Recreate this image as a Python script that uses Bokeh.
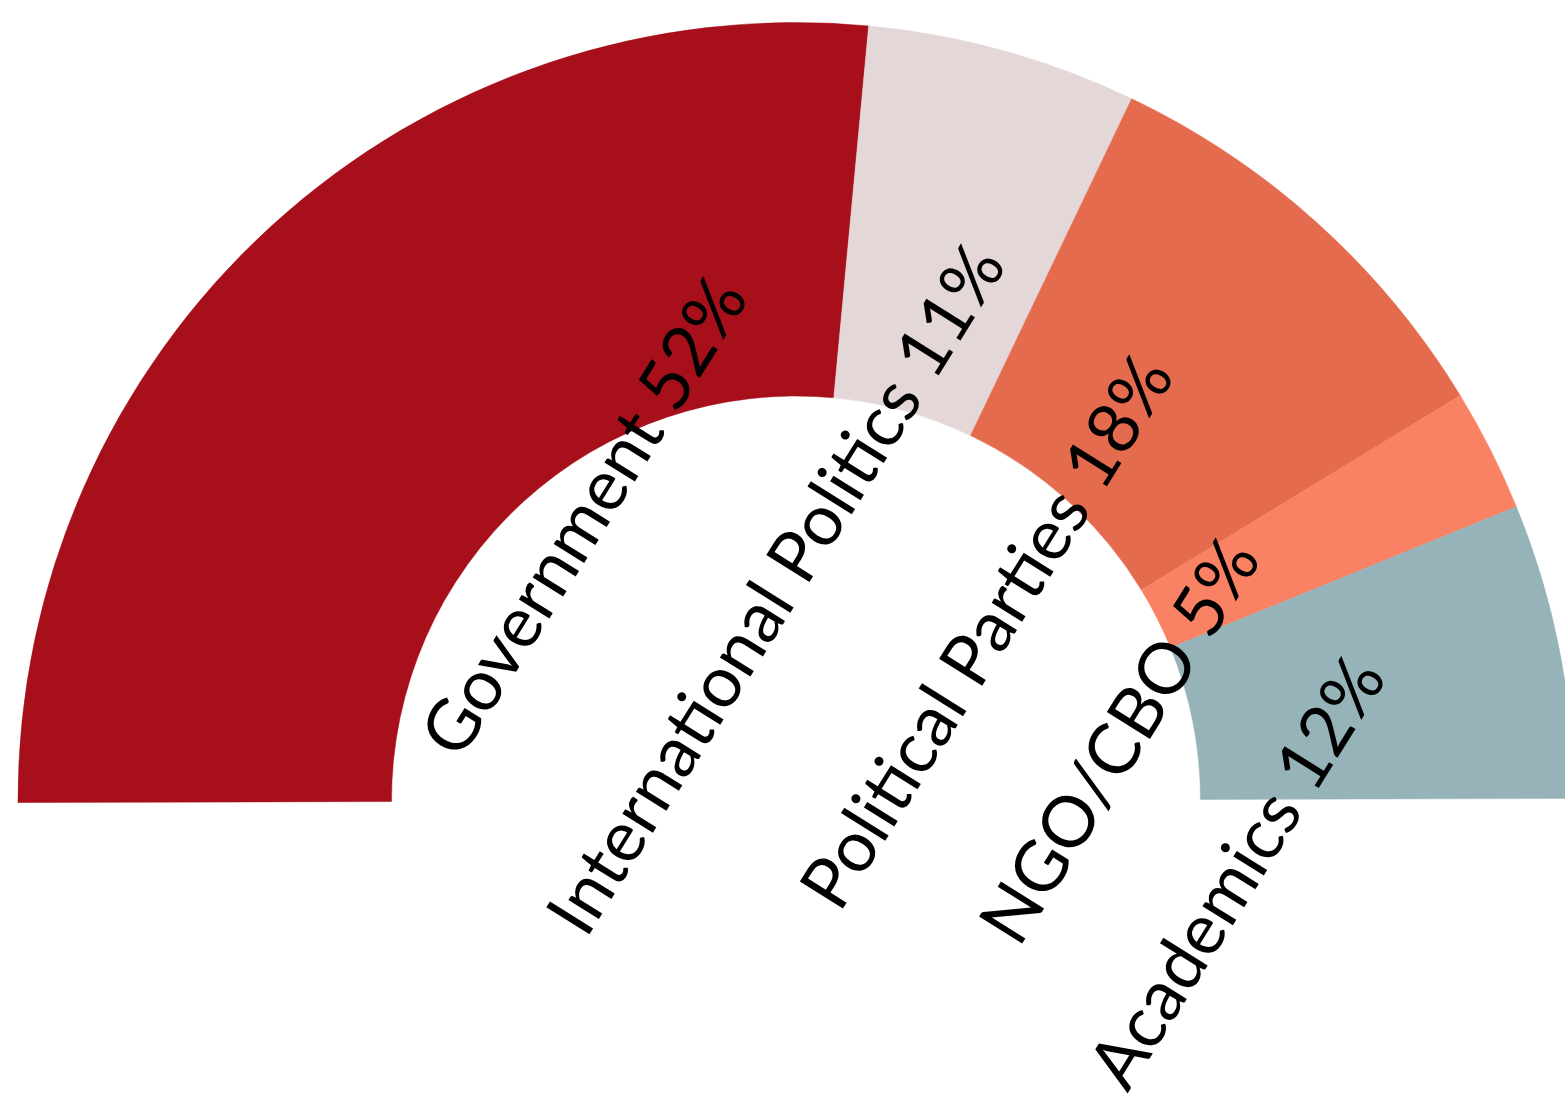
import math
from bokeh.plotting import figure
from bokeh.models import Range1d, ColumnDataSource
from bokeh.core.properties import value
from bokeh.embed import file_html
from bokeh.resources import INLINE

# ---- data ----
categories = ["Government", "International Politics", "Political Parties", "NGO/CBO", "Academics"]
percents = [52, 11, 18, 5, 12]
colors = ["#A70F1A", "#E4D7D8", "#E56B4F", "#FA8264", "#95B3B8"]

# ---- layout ----
W, H = 1565, 1098
CX_PX, CY_PX = 795.5, 800.0          # centre of the half ring on the page
R_IN, R_OUT = 404.5, 778.0
TILT = math.radians(0.15)
LABEL_ANGLE = math.radians(58)
# label centre placement, polar (radius, angle shift from slice middle in degrees)
label_r = [357, 214, 254, 327, 444]
label_shift = [-5.5, 21.5, -5.8, -16.0, -20.3]

total = sum(percents)
cum = [0]
for v in percents:
    cum.append(cum[-1] + v)
starts, ends, lx, ly, texts = [], [], [], [], []
for i, v in enumerate(percents):
    a0 = math.pi * (1 - cum[i + 1] / total) + TILT
    a1 = math.pi * (1 - cum[i] / total) + TILT
    starts.append(a0)
    ends.append(a1)
    mid = (a0 + a1) / 2 + math.radians(label_shift[i])
    lx.append(label_r[i] * math.cos(mid))
    ly.append(label_r[i] * math.sin(mid))
    texts.append(f"{categories[i]} {v}%")

src = ColumnDataSource(dict(start=starts, end=ends, color=colors))
lsrc = ColumnDataSource(dict(x=lx, y=ly, text=texts))

x0 = -CX_PX
y1 = CY_PX
p = figure(width=W, height=H, output_backend="svg", toolbar_location=None,
           x_range=Range1d(x0, x0 + W), y_range=Range1d(y1 - H, y1),
           x_axis_location=None, y_axis_location=None, min_border=0)
p.grid.visible = False
p.outline_line_color = None
p.background_fill_color = "white"
p.border_fill_color = "white"

p.annular_wedge(x=0, y=0, inner_radius=R_IN, outer_radius=R_OUT,
                start_angle="start", end_angle="end", fill_color="color",
                line_color="color", line_width=0.5, source=src)

p.text(x="x", y="y", text="text", source=lsrc, angle=LABEL_ANGLE,
       text_align="center", text_baseline="middle",
       text_font=value("Lato"), text_font_size="71px", text_color="black")

open("out.html", "w").write(file_html(p, INLINE))
